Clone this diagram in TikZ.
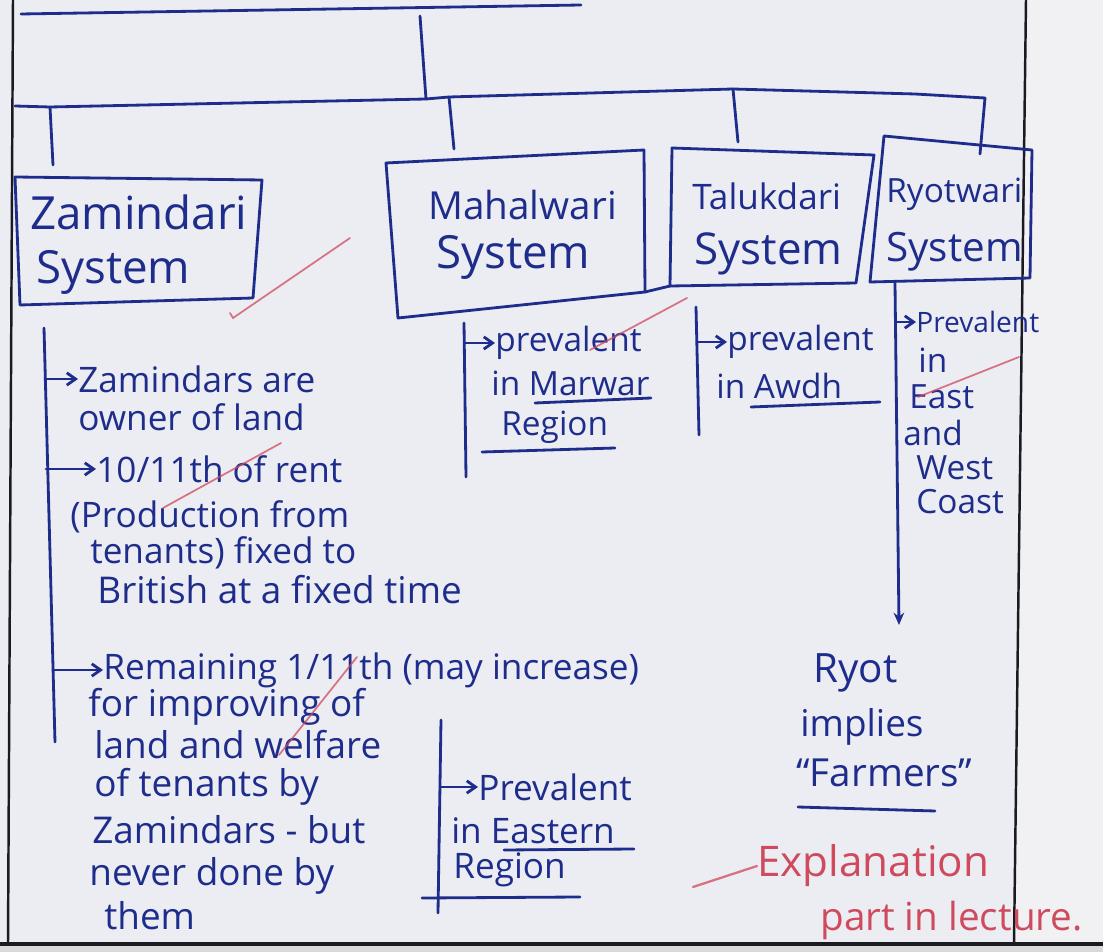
\documentclass[tikz,border=0pt]{standalone}
\usepackage{fontspec}
\setmainfont{Open Sans}
\usetikzlibrary{arrows.meta}
\definecolor{paper}{HTML}{ECEDF2}
\definecolor{paperR}{HTML}{F1F1F4}
\definecolor{ink}{HTML}{1E2D8C}
\definecolor{redink}{HTML}{D04A5E}
\definecolor{border}{HTML}{1A1A22}
\begin{document}
\begin{tikzpicture}[x=0.02cm,y=-0.02cm,
  inkline/.style={draw=ink, line width=1.6pt, line cap=round, line join=round},
  arr/.style={inkline, -{Straight Barb[length=5pt,width=7pt]}},
  boxline/.style={inkline},
  ttl/.style={text=ink, anchor=west, inner sep=0pt, font=\fontsize{#1}{#1}\selectfont},
  nt/.style={text=ink, anchor=west, inner sep=0pt, font=\fontsize{#1}{#1}\selectfont},
  rt/.style={text=redink, anchor=west, inner sep=0pt, font=\fontsize{#1}{#1}\selectfont},
  redmark/.style={draw=redink, line width=1pt, opacity=0.75, line cap=round},
  frame/.style={draw=border, line width=1.4pt}]
\useasboundingbox (0,0) rectangle (1103,952);
\fill[paper] (0,0) rectangle (1103,952);
\fill[paperR] (1026,0) -- (1103,0) -- (1103,943) -- (1014,943) -- cycle;
\fill[black!15] (0,944) rectangle (1103,952);
% page frame
\draw[frame] (13,0) -- (8,944);
\draw[frame] (1026,0) -- (1014,944);
\draw[frame, line width=2.4pt] (0,944) -- (1103,944);

% hierarchy lines
\coordinate (tl) at (21,14);
\coordinate (tr) at (581,5);
\draw[inkline] (tl) -- (tr);
\coordinate (vtop) at (420,16);
\coordinate (vbot) at (426,99);
\draw[inkline] (vtop) -- (vbot);
\coordinate (bz) at (50,107);
\coordinate (bm) at (449,97);
\coordinate (bt) at (733,89);
\coordinate (br) at (985,98);
\draw[inkline] (15,106) -- (bz) -- (vbot) -- (bm) -- (bt) -- (915,94) -- (br);
\coordinate (zt) at (53,165);
\coordinate (mt) at (454,149);
\coordinate (tt) at (738,142);
\coordinate (rtop) at (980,154);
\draw[inkline] (bz) -- (zt);
\draw[inkline] (bm) -- (mt);
\draw[inkline] (bt) -- (tt);
\draw[inkline] (br) -- (rtop);

% boxes
\draw[boxline] (15,177) -- (262,180) -- (253,298) -- (20,305) -- cycle;
\draw[boxline] (386,163) -- (644,150) -- (645,292) -- (398,318) -- cycle;
\draw[boxline] (645,292) -- (670,286);
\draw[boxline] (672,148) -- (874,155) -- (856,283) -- (670,286) -- cycle;
\draw[boxline] (884,136) -- (1032,150) -- (1030,278) -- (870,282) -- cycle;

\node[ttl=26] (z1) at (30,212) {Zamindari};
\node[ttl=26] (z2) at (36,272) {System};
\node[ttl=22] (m1) at (428,205) {Mahalwari};
\node[ttl=26] (m2) at (436,257) {System};
\node[ttl=20] (t1) at (692,196) {Talukdari};
\node[ttl=25] (t2) at (694,254) {System};
\node[ttl=19] (r1) at (886,194) {Ryotwari};
\node[ttl=23] (r2) at (886,252) {System};

% Zamindari column
\coordinate (zb0) at (44,328);
\coordinate (zb4) at (55,742);
\draw[inkline] (zb0) -- (zb4);
\coordinate (za1) at (45,379);
\coordinate (za2) at (46,469);
\coordinate (za3) at (53,670);
\node[nt=20] (zn1) at (78,379) {Zamindars are};
\node[nt=20] (zn1b) at (78,417) {owner of land};
\node[nt=20] (zn2) at (96,469) {10/11th of rent};
\node[nt=20] (zn2b) at (70,517) {(Production from};
\node[nt=20] (zn2c) at (90,553) {tenants) fixed to};
\node[nt=21] (zn2d) at (97,590) {British at a fixed time};
\node[nt=20] (zn3) at (103,670) {Remaining 1/11th (may increase)};
\node[nt=21] (zn3b) at (88,707) {for improving of};
\node[nt=21] (zn3c) at (94,745) {land and welfare};
\node[nt=21] (zn3d) at (94,787) {of tenants by};
\node[nt=21] (zn3e) at (92,830) {Zamindars - but};
\node[nt=21] (zn3f) at (89,876) {never done by};
\node[nt=21] (zn3g) at (104,916) {them};
\draw[arr] (za1) -- (zn1.west);
\draw[arr] (za2) -- (zn2.west);
\draw[arr] (za3) -- (zn3.west);

% Eastern region bracket
\coordinate (eb0) at (441,720);
\coordinate (eb1) at (438,913);
\draw[inkline] (eb0) -- (eb1);
\coordinate (ea) at (440,787);
\node[nt=20] (en1) at (478,787) {Prevalent};
\node[nt=20] (en2) at (451,831) {in Eastern};
\node[nt=20] (en3) at (453,870) {Region};
\draw[arr] (ea) -- (en1.west);
\draw[inkline] (504,850) -- (634,849);
\draw[inkline] (422,898) -- (580,897);

% Mahalwari bracket
\coordinate (mb0) at (464,323);
\coordinate (mb1) at (466,477);
\draw[inkline] (mb0) -- (mb1);
\coordinate (ma) at (465,343);
\node[nt=19] (mn1) at (495,343) {prevalent};
\node[nt=19] (mn2) at (491,383) {in Marwar};
\node[nt=19] (mn3) at (501,427) {Region};
\draw[arr] (ma) -- (mn1.west);
\draw[inkline] (535,403) -- (651,398);
\draw[inkline] (482,452) -- (615,448);

% Talukdari bracket
\coordinate (tb0) at (696,307);
\coordinate (tb1) at (699,435);
\draw[inkline] (tb0) -- (tb1);
\coordinate (ta) at (697,342);
\node[nt=19] (tn1) at (727,342) {prevalent};
\node[nt=19] (tn2) at (716,386) {in Awdh};
\draw[arr] (ta) -- (tn1.west);
\draw[inkline] (751,407) -- (880,402);

% Ryotwari bracket
\coordinate (rb0) at (895,283);
\coordinate (rb1) at (899,625);
\draw[inkline, -{Stealth[length=7pt,width=6pt]}] (rb0) -- (rb1);
\coordinate (ra) at (896,322);
\node[nt=16] (rn1) at (916,322) {Prevalent};
\node[nt=19] (rn2) at (918,360) {in};
\node[nt=19] (rn3) at (909,397) {East};
\node[nt=19] (rn4) at (903,433) {and};
\node[nt=19] (rn5) at (916,468) {West};
\node[nt=19] (rn6) at (916,502) {Coast};
\draw[arr] (ra) -- (rn1.west);

% Ryot note
\node[nt=23] (yn1) at (813,673) {Ryot};
\node[nt=21] (yn2) at (800,727) {implies};
\node[nt=22] (yn3) at (796,773) {“Farmers”};
\draw[inkline] (798,807) -- (935,811);

% red annotations
\node[rt=24] (x1) at (757,866) {Explanation};
\node[rt=22] (x2) at (820,920) {part in lecture.};
\coordinate (xs) at (693,887);
\draw[redmark, line width=1.3pt] (xs) -- (x1.west);
\draw[redmark] (230,313) -- (233,318) -- (350,238);
\draw[redmark] (163,508) -- (281,443);
\draw[redmark] (279,755) -- (357,657);
\draw[redmark] (590,350) -- (687,298);
\draw[redmark] (918,397) -- (1019,357);
\end{tikzpicture}
\end{document}
